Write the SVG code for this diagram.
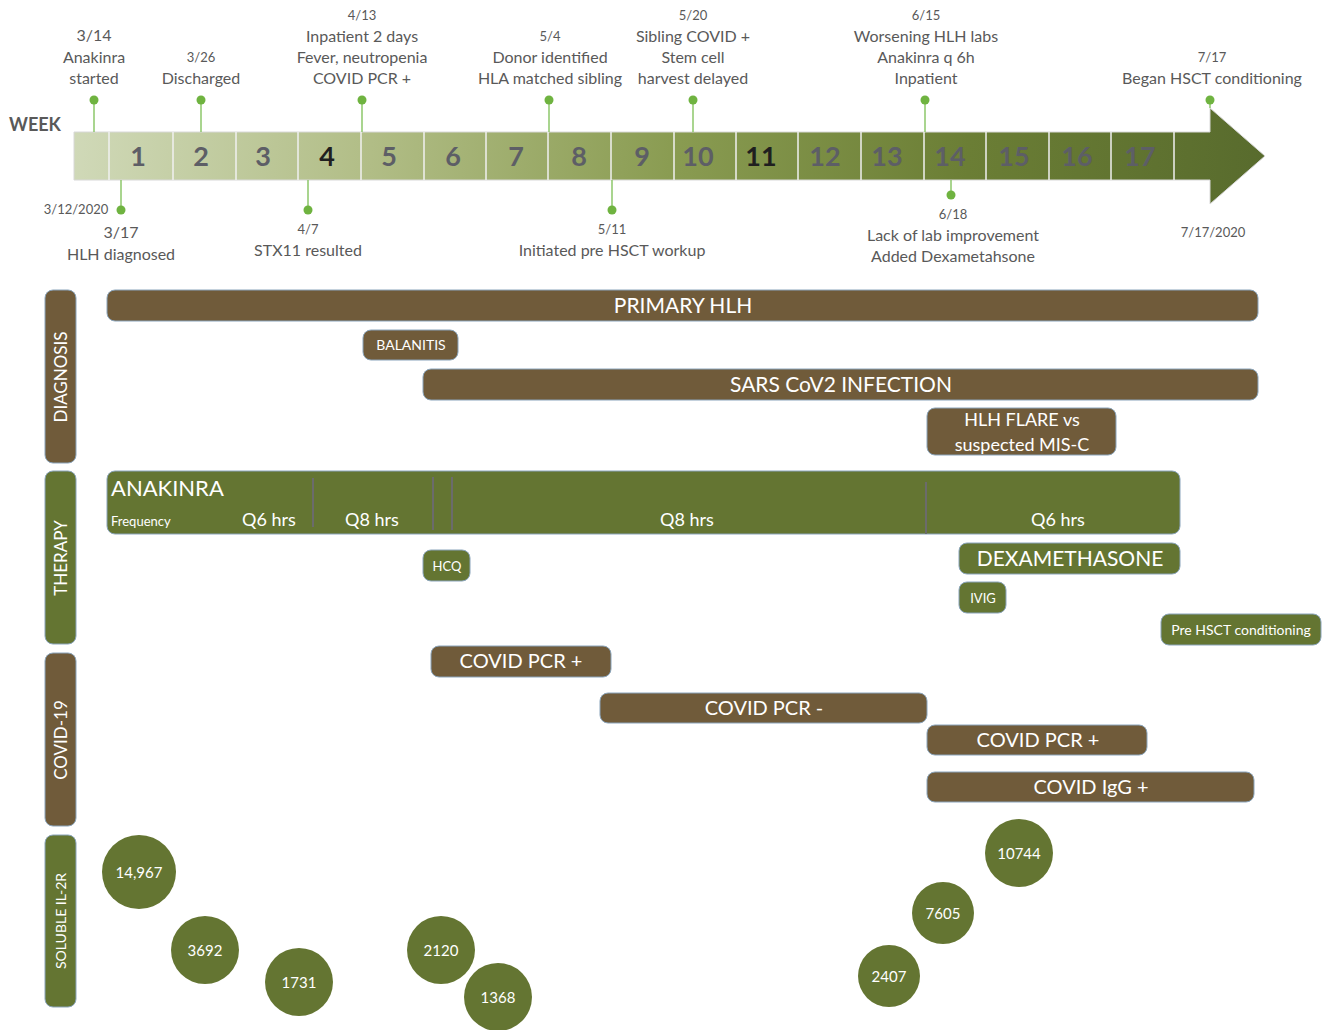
<svg xmlns="http://www.w3.org/2000/svg" width="1322" height="1030" viewBox="0 0 1322 1030">
<defs>
<linearGradient id="wk" gradientUnits="userSpaceOnUse" x1="74" y1="120" x2="1265" y2="190">
<stop offset="0" stop-color="#d0d9b8"/>
<stop offset="0.25" stop-color="#b1bd86"/>
<stop offset="0.5" stop-color="#8a9c52"/>
<stop offset="0.75" stop-color="#6b7e35"/>
<stop offset="1" stop-color="#586b2d"/>
</linearGradient>
<style>
text{font-family:Lato,"Open Sans","Liberation Sans",sans-serif;}
.t{fill:#595959;font-size:16px;text-anchor:middle;}
.d{fill:#595959;font-size:13px;text-anchor:middle;}
.n{font-size:27px;font-weight:bold;text-anchor:middle;fill:#5d5e66;}
.nb{fill:#1f1f1f;}
.dot{fill:#6fb340;}
.ln{stroke:#8cc76a;stroke-width:1.5;}
.cell{stroke:#f0f0f0;stroke-width:1.5;}
.br{fill:#705b3a;stroke:#8aa4bb;stroke-width:1;}
.gr{fill:#647532;stroke:#8aa4bb;stroke-width:1;}
.lb{fill:#ffffff;text-anchor:middle;}
.div{stroke:#6b6b6b;stroke-width:2;}
</style>
</defs>

<g id="timeline">
<text x="9" y="131" font-size="18" font-weight="bold" fill="#595959">WEEK</text>
<polygon points="74,132 1210,132 1210,108 1265,156 1210,204 1210,180 74,180" fill="url(#wk)" stroke="#d8d8d8" stroke-width="1"/>
<g class="cell">
<line x1="109" y1="132" x2="109" y2="180"/><line x1="173" y1="132" x2="173" y2="180"/><line x1="236" y1="132" x2="236" y2="180"/><line x1="298" y1="132" x2="298" y2="180"/><line x1="361" y1="132" x2="361" y2="180"/><line x1="424" y1="132" x2="424" y2="180"/><line x1="486" y1="132" x2="486" y2="180"/><line x1="548" y1="132" x2="548" y2="180"/><line x1="611" y1="132" x2="611" y2="180"/><line x1="674" y1="132" x2="674" y2="180"/><line x1="736" y1="132" x2="736" y2="180"/><line x1="798" y1="132" x2="798" y2="180"/><line x1="861" y1="132" x2="861" y2="180"/><line x1="924" y1="132" x2="924" y2="180"/><line x1="986" y1="132" x2="986" y2="180"/><line x1="1049" y1="132" x2="1049" y2="180"/><line x1="1111" y1="132" x2="1111" y2="180"/><line x1="1174" y1="132" x2="1174" y2="180"/>
</g>
<g>
<text class="n" x="138" y="166">1</text><text class="n" x="201" y="166">2</text><text class="n" x="263" y="166">3</text><text class="n nb" x="327" y="166">4</text><text class="n" x="389" y="166">5</text><text class="n" x="453" y="166">6</text><text class="n" x="516" y="166">7</text><text class="n" x="579" y="166">8</text><text class="n" x="642" y="166">9</text><text class="n" x="698" y="166">10</text><text class="n nb" x="761" y="166">11</text><text class="n" x="825" y="166">12</text><text class="n" x="887" y="166">13</text><text class="n" x="950" y="166">14</text><text class="n" x="1014" y="166">15</text><text class="n" x="1077" y="166">16</text><text class="n" x="1140" y="166">17</text>
</g>
</g>

<g id="connectors">
<line class="ln" x1="94" y1="100" x2="94" y2="132"/>
<line class="ln" x1="201" y1="100" x2="201" y2="132"/>
<line class="ln" x1="362" y1="100" x2="362" y2="132"/>
<line class="ln" x1="549" y1="100" x2="549" y2="132"/>
<line class="ln" x1="693" y1="100" x2="693" y2="132"/>
<line class="ln" x1="925" y1="100" x2="925" y2="132"/>
<line class="ln" x1="1210" y1="100" x2="1210" y2="108"/>
<line class="ln" x1="121" y1="180" x2="121" y2="210"/>
<line class="ln" x1="308" y1="180" x2="308" y2="210"/>
<line class="ln" x1="612" y1="180" x2="612" y2="210"/>
<line class="ln" x1="951" y1="180" x2="951" y2="195"/>
<g class="dot">
<circle cx="94" cy="100" r="4.5"/><circle cx="201" cy="100" r="4.5"/><circle cx="362" cy="100" r="4.5"/><circle cx="549" cy="100" r="4.5"/><circle cx="693" cy="100" r="4.5"/><circle cx="925" cy="100" r="4.5"/><circle cx="1210" cy="100" r="4.5"/>
<circle cx="121" cy="210" r="4.5"/><circle cx="308" cy="210" r="4.5"/><circle cx="612" cy="210" r="4.5"/><circle cx="951" cy="195" r="4.5"/>
</g>
</g>

<g id="ev-0314"><text class="t" x="94" y="41">3/14</text><text class="t" x="94" y="63">Anakinra</text><text class="t" x="94" y="84">started</text></g>
<g id="ev-0326"><text class="d" x="201" y="62">3/26</text><text class="t" x="201" y="84">Discharged</text></g>
<g id="ev-0413"><text class="d" x="362" y="20">4/13</text><text class="t" x="362" y="42">Inpatient 2 days</text><text class="t" x="362" y="63">Fever, neutropenia</text><text class="t" x="362" y="84">COVID PCR +</text></g>
<g id="ev-0504"><text class="d" x="550" y="41">5/4</text><text class="t" x="550" y="63">Donor identified</text><text class="t" x="550" y="84">HLA matched sibling</text></g>
<g id="ev-0520"><text class="d" x="693" y="20">5/20</text><text class="t" x="693" y="42">Sibling COVID +</text><text class="t" x="693" y="63">Stem cell</text><text class="t" x="693" y="84">harvest delayed</text></g>
<g id="ev-0615"><text class="d" x="926" y="20">6/15</text><text class="t" x="926" y="42">Worsening HLH labs</text><text class="t" x="926" y="63">Anakinra q 6h</text><text class="t" x="926" y="84">Inpatient</text></g>
<g id="ev-0717"><text class="d" x="1212" y="62">7/17</text><text class="t" x="1212" y="84">Began HSCT conditioning</text></g>
<g id="ev-start"><text class="d" x="76" y="214">3/12/2020</text></g>
<g id="ev-0317"><text class="t" x="121" y="238">3/17</text><text class="t" x="121" y="260">HLH diagnosed</text></g>
<g id="ev-0407"><text class="d" x="308" y="234">4/7</text><text class="t" x="308" y="256">STX11 resulted</text></g>
<g id="ev-0511"><text class="d" x="612" y="234">5/11</text><text class="t" x="612" y="256">Initiated pre HSCT workup</text></g>
<g id="ev-0618"><text class="d" x="953" y="219">6/18</text><text class="t" x="953" y="241">Lack of lab improvement</text><text class="t" x="953" y="262">Added Dexametahsone</text></g>
<g id="ev-end"><text class="d" x="1213" y="237">7/17/2020</text></g>

<g id="sec-diagnosis"><rect x="45" y="290" width="31" height="173" rx="8" fill="#705b3a" stroke="#8aa4bb"/><text class="lb" font-size="17" transform="translate(67,377) rotate(-90)">DIAGNOSIS</text></g>
<g id="sec-therapy"><rect x="45" y="471" width="31" height="173" rx="8" fill="#647532" stroke="#8aa4bb"/><text class="lb" font-size="17" transform="translate(67,558) rotate(-90)">THERAPY</text></g>
<g id="sec-covid"><rect x="45" y="653" width="31" height="173" rx="8" fill="#705b3a" stroke="#8aa4bb"/><text class="lb" font-size="17" transform="translate(67,740) rotate(-90)">COVID-19</text></g>
<g id="sec-il2r"><rect x="45" y="835" width="31" height="172" rx="8" fill="#647532" stroke="#8aa4bb"/><text class="lb" font-size="14" transform="translate(66,921) rotate(-90)">SOLUBLE IL-2R</text></g>

<g id="primary-hlh"><rect class="br" x="107" y="290" width="1151" height="31" rx="8"/><text class="lb" x="683" y="313" font-size="21">PRIMARY HLH</text></g>
<g id="balanitis"><rect class="br" x="363" y="330" width="95" height="30" rx="8"/><text class="lb" x="411" y="350" font-size="14">BALANITIS</text></g>
<g id="sars"><rect class="br" x="423" y="369" width="835" height="31" rx="8"/><text class="lb" x="841" y="392" font-size="21">SARS CoV2 INFECTION</text></g>
<g id="hlh-flare"><rect class="br" x="927" y="408" width="189" height="47" rx="8"/><text class="lb" x="1022" y="426" font-size="18">HLH FLARE vs</text><text class="lb" x="1022" y="451" font-size="18">suspected MIS-C</text></g>

<g id="anakinra"><rect class="gr" x="107" y="471" width="1073" height="63" rx="8"/>
<text x="111" y="496" font-size="22" fill="#fff">ANAKINRA</text>
<text x="111" y="526" font-size="13" fill="#fff">Frequency</text>
<text class="lb" x="269" y="526" font-size="18">Q6 hrs</text>
<text class="lb" x="372" y="526" font-size="18">Q8 hrs</text>
<text class="lb" x="687" y="526" font-size="18">Q8 hrs</text>
<text class="lb" x="1058" y="526" font-size="18">Q6 hrs</text>
<line class="div" x1="313" y1="478" x2="313" y2="527"/>
<line class="div" x1="433" y1="477" x2="433" y2="530"/>
<line class="div" x1="452" y1="477" x2="452" y2="530"/>
<line class="div" x1="926" y1="482" x2="926" y2="534"/>
</g>
<g id="hcq"><rect class="gr" x="423" y="550" width="47" height="31" rx="8"/><text class="lb" x="447" y="571" font-size="13">HCQ</text></g>
<g id="dexa"><rect class="gr" x="959" y="543" width="221" height="31" rx="8"/><text class="lb" x="1070" y="566" font-size="21">DEXAMETHASONE</text></g>
<g id="ivig"><rect class="gr" x="959" y="582" width="47" height="31" rx="8"/><text class="lb" x="983" y="603" font-size="13">IVIG</text></g>
<g id="pre-hsct"><rect class="gr" x="1161" y="614" width="160" height="31" rx="8"/><text class="lb" x="1241" y="635" font-size="14">Pre HSCT conditioning</text></g>

<g id="pcr-pos-1"><rect class="br" x="431" y="646" width="180" height="31" rx="8"/><text class="lb" x="521" y="668" font-size="20">COVID PCR +</text></g>
<g id="pcr-neg"><rect class="br" x="600" y="693" width="327" height="30" rx="8"/><text class="lb" x="764" y="715" font-size="20">COVID PCR -</text></g>
<g id="pcr-pos-2"><rect class="br" x="927" y="725" width="220" height="30" rx="8"/><text class="lb" x="1038" y="747" font-size="20">COVID PCR +</text></g>
<g id="igg"><rect class="br" x="927" y="772" width="327" height="30" rx="8"/><text class="lb" x="1091" y="794" font-size="20">COVID IgG +</text></g>

<g id="il2r-14967"><circle cx="139" cy="872" r="37" fill="#647532"/><text class="lb" x="139" y="878" font-size="15">14,967</text></g>
<g id="il2r-3692"><circle cx="205" cy="950" r="34" fill="#647532"/><text class="lb" x="205" y="956" font-size="15">3692</text></g>
<g id="il2r-1731"><circle cx="299" cy="982" r="34" fill="#647532"/><text class="lb" x="299" y="988" font-size="15">1731</text></g>
<g id="il2r-2120"><circle cx="441" cy="950" r="34" fill="#647532"/><text class="lb" x="441" y="956" font-size="15">2120</text></g>
<g id="il2r-1368"><circle cx="498" cy="997" r="34" fill="#647532"/><text class="lb" x="498" y="1003" font-size="15">1368</text></g>
<g id="il2r-2407"><circle cx="889" cy="976" r="31" fill="#647532"/><text class="lb" x="889" y="982" font-size="15">2407</text></g>
<g id="il2r-7605"><circle cx="943" cy="913" r="31" fill="#647532"/><text class="lb" x="943" y="919" font-size="15">7605</text></g>
<g id="il2r-10744"><circle cx="1019" cy="853" r="34" fill="#647532"/><text class="lb" x="1019" y="859" font-size="15">10744</text></g>
</svg>
